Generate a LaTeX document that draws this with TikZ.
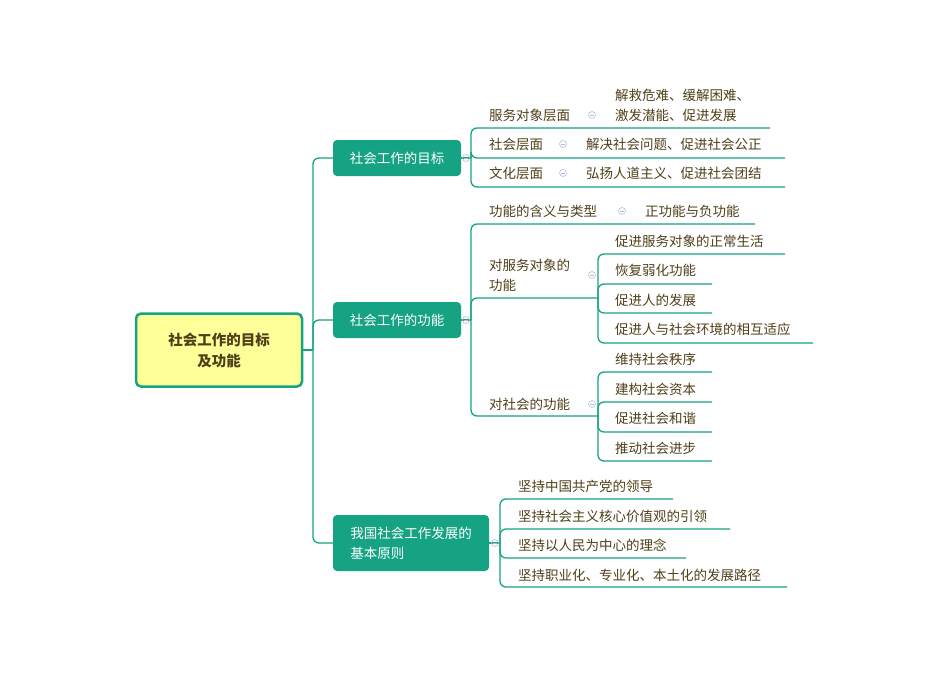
\documentclass[tikz,border=0pt]{standalone}
\usepackage{fontspec}
\setmainfont{Noto Sans CJK SC}
\definecolor{teal1}{HTML}{16A383}
\definecolor{txtc}{HTML}{4F3F18}
\definecolor{rootfill}{HTML}{FFFF99}
\definecolor{foldc}{HTML}{B8BCD8}
\tikzset{
  root/.style={rectangle, rounded corners=5pt, draw=teal1, line width=2.5pt, fill=rootfill, minimum width=166pt, minimum height=73pt, align=center, text=txtc, font=\fontsize{14.5}{21}\selectfont\bfseries},
  topic/.style={rectangle, rounded corners=4pt, fill=teal1, text=white, align=left, inner xsep=12pt, font=\fontsize{13.5}{20}\selectfont},
  txt/.style={anchor=west, align=left, text=txtc, inner sep=0pt, font=\fontsize{13.5}{20}\selectfont},
  br/.style={draw=teal1, line width=1.3pt, rounded corners=6pt},
  fold/.style={circle, draw=foldc, line width=0.6pt, minimum size=7pt, inner sep=0pt, path picture={\draw[foldc,line width=0.6pt] ([xshift=-2pt]path picture bounding box.center) -- ([xshift=2pt]path picture bounding box.center);}}
}
\begin{document}
\begin{tikzpicture}[x=1pt,y=-1pt]
\useasboundingbox (0,0) rectangle (950,672);
% centre
\node[root] (root) at (219,350) {社会工作的目标\\及功能};
\node[topic, minimum width=128pt, minimum height=36pt] (A) at (397,158) {社会工作的目标};
\node[topic, minimum width=128pt, minimum height=36pt] (B) at (397,320) {社会工作的功能};
\node[topic, minimum width=156pt, minimum height=56pt] (C) at (411,543) {我国社会工作发展的\\基本原则};
\coordinate (trunk) at (313,350);
\draw[br] (root.east) -- (trunk);
\foreach \t in {A,B,C} \draw[br] (trunk) |- (\t.west);
% goals
\coordinate (Aj) at (471,158);
\draw[br] (A.east) -- (Aj);
\node[txt] (a1) at (489,115) {服务对象层面};
\node[txt] (a1d) at (615,105) {解救危难、缓解困难、\\激发潜能、促进发展};
\node[txt] (a2) at (489,144) {社会层面};
\node[txt] (a2d) at (586,144) {解决社会问题、促进社会公正};
\node[txt] (a3) at (489,173) {文化层面};
\node[txt] (a3d) at (586,173) {弘扬人道主义、促进社会团结};
\coordinate (a1e) at (770,128);
\coordinate (a2e) at (785,158);
\coordinate (a3e) at (785,187);
\foreach \e in {a1e,a2e,a3e} \draw[br] (Aj) |- (\e);
% functions
\coordinate (Bj) at (471,320);
\draw[br] (B.east) -- (Bj);
\node[txt] (b1) at (489,211) {功能的含义与类型};
\node[txt] (b1d) at (645,211) {正功能与负功能};
\node[txt] (b2) at (489,275) {对服务对象的\\功能};
\node[txt] (b3) at (489,404) {对社会的功能};
\coordinate (b1e) at (755,224);
\coordinate (b2e) at (598,298);
\coordinate (b3e) at (598,416);
\foreach \e in {b1e,b2e,b3e} \draw[br] (Bj) |- (\e);
\node[txt] (c1) at (615,241) {促进服务对象的正常生活};
\node[txt] (c2) at (615,270) {恢复弱化功能};
\node[txt] (c3) at (615,300) {促进人的发展};
\node[txt] (c4) at (615,329) {促进人与社会环境的相互适应};
\coordinate (c1e) at (785,254);
\coordinate (c2e) at (712,284);
\coordinate (c3e) at (712,313);
\coordinate (c4e) at (813,343);
\foreach \e in {c1e,c2e,c3e,c4e} \draw[br] (b2e) |- (\e);
\node[txt] (d1) at (615,359) {维持社会秩序};
\node[txt] (d2) at (615,389) {建构社会资本};
\node[txt] (d3) at (615,418) {促进社会和谐};
\node[txt] (d4) at (615,448) {推动社会进步};
\coordinate (d1e) at (712,372);
\coordinate (d2e) at (712,402);
\coordinate (d3e) at (712,432);
\coordinate (d4e) at (712,461);
\foreach \e in {d1e,d2e,d3e,d4e} \draw[br] (b3e) |- (\e);
% principles
\coordinate (Cj) at (500,543);
\draw[br] (C.east) -- (Cj);
\node[txt] (e1) at (518,486) {坚持中国共产党的领导};
\node[txt] (e2) at (518,516) {坚持社会主义核心价值观的引领};
\node[txt] (e3) at (518,545) {坚持以人民为中心的理念};
\node[txt] (e4) at (518,575) {坚持职业化、专业化、本土化的发展路径};
\coordinate (e1e) at (673,499);
\coordinate (e2e) at (730,529);
\coordinate (e3e) at (686,558);
\coordinate (e4e) at (787,587);
\foreach \e in {e1e,e2e,e3e,e4e} \draw[br] (Cj) |- (\e);
% fold marks
\foreach \p in {(466,158),(592,115),(563,144),(563,173),(466,320),(622,211),(592,275),(592,404),(495,543)}
  \node[fold] at \p {};
\end{tikzpicture}
\end{document}
